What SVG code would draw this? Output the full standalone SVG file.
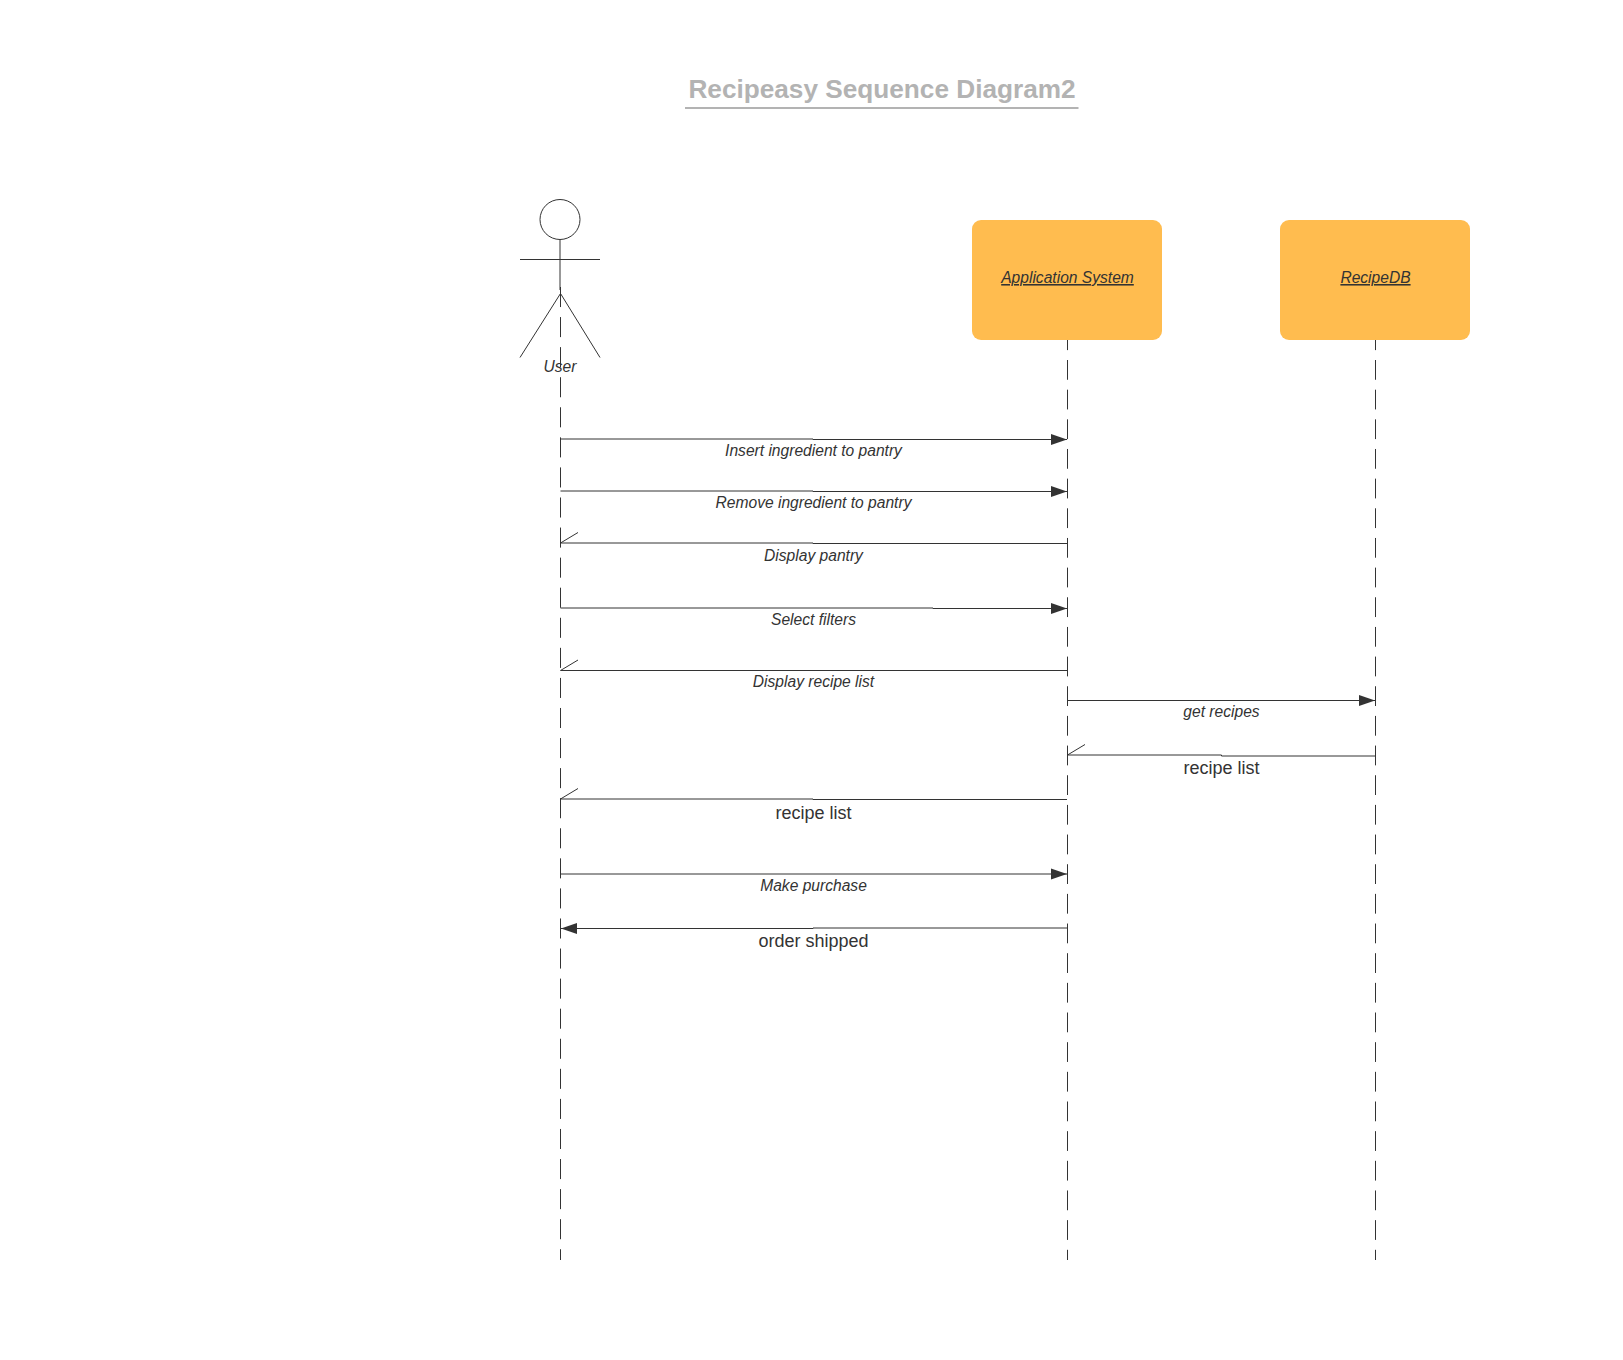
<svg xmlns="http://www.w3.org/2000/svg" width="1623" height="1360" viewBox="0 0 1623 1360">
<style>
text{font-family:"Liberation Sans",Arial,sans-serif;fill:#333}
.i{font-style:italic;font-size:15.6px;text-anchor:middle}
.n{font-size:18px;text-anchor:middle}
.l{fill:none;stroke:#333;stroke-width:1}
.d{stroke-dasharray:20.05 10.02}
.e{stroke-dasharray:19.77 9.89}
</style>
<defs>
<marker id="solid" markerUnits="userSpaceOnUse" markerWidth="18" markerHeight="12" refX="16" refY="6" orient="auto"><path d="M0 0.500L16 6L0 11.500Z" fill="#333"/></marker>
</defs>
<rect width="1623" height="1360" fill="#fff"/>
<g id="title"><text x="882" y="98" text-anchor="middle" style="font-size:26.2px;font-weight:bold;fill:#b3b3b3">Recipeasy Sequence Diagram2</text><line x1="685" y1="108" x2="1078.500" y2="108" stroke="#b3b3b3" stroke-width="2"/></g>
<g id="lifelines">
<line class="l d" x1="560.500" y1="287" x2="560.500" y2="1260"/>
<line class="l e" x1="1067.500" y1="330.340" x2="1067.500" y2="1260"/>
<line class="l e" x1="1375.500" y1="330.340" x2="1375.500" y2="1260"/>
</g>
<g id="node-user">
<circle class="l" cx="560" cy="219.500" r="20"/>
<path class="l" d="M560 240V290M520 259.500H600M520 357.500L560.500 293.500L600 357.500"/>
<text class="i" x="560" y="372">User</text>
</g>
<g id="node-app"><rect x="972" y="220" width="190" height="120" rx="9" fill="#ffbc4f"/><text class="i" x="1067.500" y="283" text-decoration="underline">Application System</text></g>
<g id="node-db"><rect x="1280" y="220" width="190" height="120" rx="9" fill="#ffbc4f"/><text class="i" x="1375.500" y="283" text-decoration="underline">RecipeDB</text></g>
<g id="connectors">
<path class="l" d="M560.500 439H813V439.500H1067" marker-end="url(#solid)"/>
<path class="l" d="M560.500 491H813V491.500H1067" marker-end="url(#solid)"/>
<path class="l" d="M1067 543.500H813V543H560.500L578 532.500"/>
<path class="l" d="M560.500 608H933V608.500H1067" marker-end="url(#solid)"/>
<path class="l" d="M1067 670.500H560.500L578 660"/>
<path class="l" d="M1067.500 700.500H1375" marker-end="url(#solid)"/>
<path class="l" d="M1375.500 756H1221.500V755H1067.500L1085 744.500"/>
<path class="l" d="M1067 799.500H813V799H560.500L578 788.500"/>
<path class="l" d="M560.500 874H1067" marker-end="url(#solid)"/>
<path class="l" d="M1067 928H813V928.500H561" marker-end="url(#solid)"/>
</g>
<g id="labels">
<text class="i" x="813.500" y="455.500">Insert ingredient to pantry</text>
<text class="i" x="813.500" y="507.500">Remove ingredient to pantry</text>
<text class="i" x="813.500" y="560.500">Display pantry</text>
<text class="i" x="813.500" y="624.500">Select filters</text>
<text class="i" x="813.500" y="686.500">Display recipe list</text>
<text class="i" x="1221.500" y="717">get recipes</text>
<text class="n" x="1221.500" y="774">recipe list</text>
<text class="n" x="813.500" y="818.500">recipe list</text>
<text class="i" x="813.500" y="891">Make purchase</text>
<text class="n" x="813.500" y="947">order shipped</text>
</g>
</svg>
